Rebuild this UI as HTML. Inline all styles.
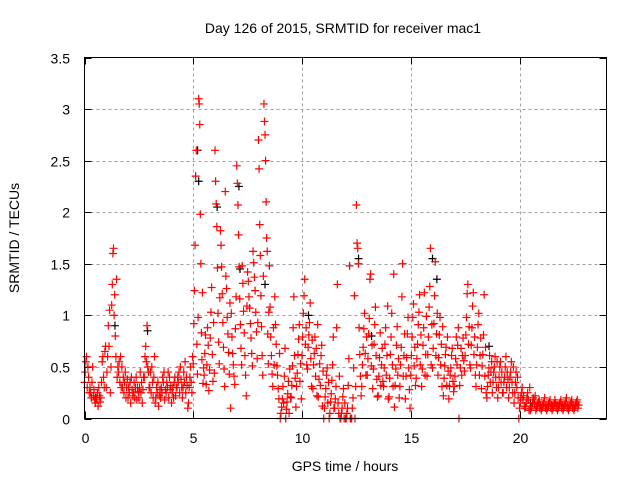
<!DOCTYPE html>
<html><head><meta charset="utf-8">
<style>
html,body{margin:0;padding:0;background:#fff;}
svg{display:block;font-family:"Liberation Sans",sans-serif;}
</style></head>
<body>
<svg id="chart" width="640" height="480" viewBox="0 0 640 480">
<rect width="640" height="480" fill="#fff"/>
<text x="343" y="33" font-size="14" text-anchor="middle">Day 126 of 2015, SRMTID for receiver mac1</text>
<text x="345" y="471" font-size="14" text-anchor="middle">GPS time / hours</text>
<text x="0" y="0" font-size="14" text-anchor="middle" transform="translate(19,238) rotate(-90)">SRMTID / TECUs</text>
<g id="grid"></g>
<g id="axes"></g>
<g id="black"></g>
<g id="red"></g>
<rect x="84.5" y="57.5" width="522" height="361" fill="none" stroke="#000" stroke-width="1"/>
</svg>
<script>
const xTicks=[0,5,10,15,20];
const yTicks=[0,0.5,1,1.5,2,2.5,3,3.5];
const yTickLabels=["0","0.5","1","1.5","2","2.5","3","3.5"];
const binHours=[0,0.25,0.5,0.75,1,1.25,1.5,1.75,2,2.25,2.5,2.75,3,3.25,3.5,3.75,4,4.25,4.5,4.75,5,5.25,5.5,5.75,6,6.25,6.5,6.75,7,7.25,7.5,7.75,8,8.25,8.5,8.75,9,9.25,9.5,9.75,10,10.25,10.5,10.75,11,11.25,11.5,11.75,12,12.25,12.5,12.75,13,13.25,13.5,13.75,14,14.25,14.5,14.75,15,15.25,15.5,15.75,16,16.25,16.5,16.75,17,17.25,17.5,17.75,18,18.25,18.5,18.75,19,19.25,19.5,19.75,20,20.25,20.5,20.75,21,21.25,21.5,21.75,22,22.25,22.5];
const binValues=[
[0.35,0.45,0.55,0.6,0.3,0.5,0.4,0.25],
[0.3,0.25,0.2,0.35,0.5,0.22,0.28,0.18],
[0.15,0.2,0.18,0.25,0.12,0.3,0.22,0.16],
[0.2,0.35,0.55,0.6,0.4,0.3,0.65,0.7],
[0.3,0.45,0.6,0.9,0.7,1.05,0.25,0.5],
[1.1,1.3,1.6,1.65,1.0,1.2,0.8,0.6,1.35],
[0.4,0.5,0.45,0.55,0.35,0.6,0.3,0.5],
[0.3,0.4,0.25,0.35,0.45,0.2,0.3,0.38],
[0.2,0.3,0.25,0.35,0.15,0.4,0.28,0.22],
[0.25,0.35,0.2,0.3,0.4,0.18,0.3,0.26],
[0.2,0.3,0.45,0.25,0.35,0.15,0.28,0.4],
[0.4,0.6,0.7,0.55,0.9,0.5,0.45,0.3],
[0.3,0.45,0.25,0.5,0.35,0.2,0.4,0.6],
[0.15,0.2,0.3,0.25,0.35,0.12,0.22,0.28],
[0.2,0.3,0.25,0.4,0.35,0.45,0.18,0.28],
[0.25,0.35,0.3,0.45,0.2,0.4,0.28,0.32],
[0.15,0.25,0.3,0.2,0.35,0.4,0.22,0.3],
[0.3,0.4,0.35,0.45,0.25,0.5,0.38,0.3],
[0.2,0.3,0.45,0.35,0.55,0.25,0.4,0.32],
[0.1,0.15,0.3,0.4,0.5,0.35,0.25,0.6],
[0.53,0.92,1.24,1.68,2.35,2.6,0.72,0.43,0.98],
[3.1,3.05,2.85,1.98,1.5,0.83,0.57,1.22,0.34,0.49],
[0.42,0.63,0.81,0.33,0.52,0.88,0.71,0.27],
[0.47,0.78,1.03,1.27,0.62,0.36,0.93,0.44],
[2.6,2.3,2.08,1.86,1.46,1.02,0.74,0.53,1.17],
[1.82,1.68,1.47,1.21,0.93,0.69,0.48,0.31,2.2],
[1.38,1.26,0.98,0.82,0.64,0.43,1.12,0.1],
[1.02,0.79,0.63,0.52,0.41,0.33,0.87,1.18],
[2.45,2.28,2.07,1.78,1.47,1.16,0.91,0.68,0.52],
[1.48,1.31,1.04,0.83,0.61,0.42,0.22,1.09],
[1.42,1.33,1.18,1.07,0.92,0.78,0.63,0.51],
[1.62,1.51,1.37,1.24,1.03,0.84,0.58,0.93],
[2.7,2.42,1.88,1.58,1.19,0.89,0.61,0.42,1.38],
[3.05,2.88,2.75,2.5,2.1,1.75,1.62,0.82,0.53,1.03],
[1.48,1.08,0.79,0.61,0.43,0.31,0.88,0.52],
[1.18,0.91,0.72,0.51,0.42,0.29,0.19,0.63],
[0.0,0.05,0.11,0.19,0.31,0.15,0.41,0.68],
[0.0,0.09,0.16,0.24,0.36,0.05,0.48,0.21],
[0.2,0.32,0.51,0.88,1.18,0.61,0.39,0.11],
[0.31,0.44,0.62,0.77,0.91,0.36,0.53,0.19],
[0.61,0.79,1.02,1.19,1.35,0.72,0.88,0.52],
[0.48,0.69,0.81,0.93,1.12,0.58,0.31,0.76],
[0.29,0.52,0.63,0.79,0.41,0.68,0.22,0.91],
[0.21,0.38,0.53,0.32,0.61,0.71,0.12,0.46],
[0.0,0.1,0.21,0.29,0.42,0.49,0.15,0.35],
[0.0,0.05,0.16,0.24,0.37,0.52,0.79,0.1],
[0.1,0.19,0.31,0.88,1.3,0.15,0.05,0.41],
[0.0,0.0,0.05,0.1,0.21,0.29,0.0,0.15],
[0.0,0.0,0.05,0.1,0.32,0.58,1.48,0.0],
[0.0,0.0,0.1,0.2,0.49,1.19,0.0,0.31],
[2.07,1.7,1.65,1.5,0.88,0.62,0.41,0.22],
[0.31,0.52,0.69,0.87,1.02,0.63,0.42,0.79],
[0.42,0.58,0.82,0.97,1.35,1.4,0.51,0.71],
[0.29,0.48,0.72,0.91,1.08,0.61,0.38,0.21],
[0.22,0.41,0.59,0.83,0.32,0.52,0.68,0.36],
[0.31,0.49,0.72,0.88,0.42,0.61,1.09,0.19],
[0.21,0.39,0.62,0.79,1.02,0.52,0.31,1.4],
[0.11,0.32,0.48,0.71,0.89,0.42,0.58,0.2],
[0.31,0.52,0.69,1.18,1.5,0.41,0.61,0.82],
[0.19,0.41,0.59,0.82,0.98,0.49,0.28,0.1],
[0.42,0.61,0.79,0.98,1.11,0.51,0.69,0.32],
[0.39,0.58,0.72,0.91,1.03,1.2,0.52,0.81],
[0.31,0.48,0.71,0.88,1.22,0.42,0.62,0.99],
[0.41,0.62,0.79,1.08,1.28,1.65,0.52,0.91],
[0.49,0.68,0.92,1.19,1.52,0.61,0.82,1.02],
[0.42,0.59,0.81,0.98,0.52,0.72,0.31,0.89],
[0.22,0.39,0.51,0.62,0.69,0.32,0.79,0.46],
[0.19,0.31,0.42,0.49,0.61,0.68,0.36,0.26],
[0.31,0.41,0.58,0.79,0.52,0.71,0.88,0.0],
[0.32,0.49,0.68,0.42,0.61,0.78,0.56,0.46],
[0.61,0.81,0.98,1.21,1.3,0.72,0.89,0.52],
[0.49,0.71,0.88,1.09,1.22,0.62,0.79,0.42],
[0.31,0.52,0.69,0.91,1.02,0.42,0.61,0.78],
[0.29,0.51,0.62,0.81,1.2,0.41,0.69,0.25],
[0.2,0.31,0.42,0.49,0.61,0.35,0.45,0.55],
[0.25,0.35,0.45,0.5,0.6,0.4,0.3,0.55],
[0.2,0.3,0.4,0.5,0.55,0.35,0.45,0.25],
[0.25,0.35,0.4,0.5,0.6,0.3,0.45,0.38],
[0.2,0.3,0.4,0.45,0.55,0.35,0.25,0.5],
[0.15,0.25,0.35,0.45,0.3,0.4,0.2,0.0],
[0.1,0.15,0.2,0.25,0.3,0.18,0.22,0.12],
[0.1,0.12,0.15,0.2,0.25,0.18,0.08,0.3],
[0.08,0.1,0.12,0.15,0.2,0.18,0.14,0.22],
[0.08,0.1,0.12,0.14,0.16,0.18,0.1,0.13],
[0.08,0.1,0.12,0.14,0.16,0.2,0.1,0.13],
[0.08,0.1,0.12,0.14,0.16,0.18,0.1,0.13],
[0.08,0.1,0.12,0.14,0.18,0.15,0.1,0.13],
[0.08,0.1,0.12,0.14,0.16,0.18,0.1,0.13],
[0.08,0.1,0.12,0.14,0.16,0.2,0.1,0.13],
[0.08,0.1,0.12,0.14,0.16,0.18,0.1,0.13],
[0.08,0.1,0.12,0.14,0.16,0.18,0.1,0.13]
];
const blackHours=[0.5,1.4,2.9,5.2,5.25,6.1,7.1,7.15,8.3,10.3,12.6,13.2,16.0,16.2,18.6,20.5];
const blackValues=[0.2,0.9,0.85,2.6,2.3,2.05,2.25,1.45,1.3,1.0,1.55,0.8,1.55,1.35,0.7,0.15];

const NS='http://www.w3.org/2000/svg';
const X0=84.5,X1=606.5,Y0=418.5,Y1=57.5,XMAX=24,YMAX=3.5;
function xs(h){return X0+(X1-X0)*h/XMAX;}
function ys(v){return Y0-(Y0-Y1)*v/YMAX;}
function mk(tag,attrs,parent){const e=document.createElementNS(NS,tag);for(const k in attrs)e.setAttribute(k,attrs[k]);parent.appendChild(e);return e;}
const grid=document.getElementById('grid'),axes=document.getElementById('axes');
yTicks.forEach((t,i)=>{
  const y=Math.round(ys(t))+0.5;
  if(t>0&&t<YMAX){const g=mk('line',{x1:X0,x2:X1,y1:y,y2:y,stroke:'#a0a0a0','stroke-dasharray':'3,3'},grid);
  
  }
  mk('line',{x1:X0,x2:X0+7,y1:y,y2:y,stroke:'#000'},axes);
  mk('line',{x1:X1,x2:X1-7,y1:y,y2:y,stroke:'#000'},axes);
  const tx=mk('text',{x:70,y:y+5,'font-size':14,'text-anchor':'end'},axes);
  tx.textContent=yTickLabels[i];
  
  
});
xTicks.forEach(t=>{
  const x=Math.round(xs(t))+0.5;
  if(t>0){const g=mk('line',{x1:x,x2:x,y1:Y0,y2:Y1,stroke:'#a0a0a0','stroke-dasharray':'3,3'},grid);
  
  }
  mk('line',{x1:x,x2:x,y1:Y0,y2:Y0-7,stroke:'#000'},axes);
  mk('line',{x1:x,x2:x,y1:Y1,y2:Y1+7,stroke:'#000'},axes);
  const tx=mk('text',{x:x,y:443,'font-size':14,'text-anchor':'middle'},axes);
  tx.textContent=String(t);
  
  
});
function cross(h,v,color,parent){
  const x=xs(h),y=ys(v);
  const p=mk('path',{d:`M${x-4},${y}H${x+4}M${x},${y-4}V${y+4}`,stroke:color,'stroke-width':1.2,fill:'none'},parent);
  
  
}
const black=document.getElementById('black');
blackHours.forEach((h,i)=>cross(h,blackValues[i],'#000',black));
const red=document.getElementById('red');
binHours.forEach((h,i)=>{
  const vals=binValues[i]||[];
  vals.forEach((v,j)=>{cross(h+0.25*j/vals.length,v,'#ff0000',red);});
});
</script>
</body></html>
